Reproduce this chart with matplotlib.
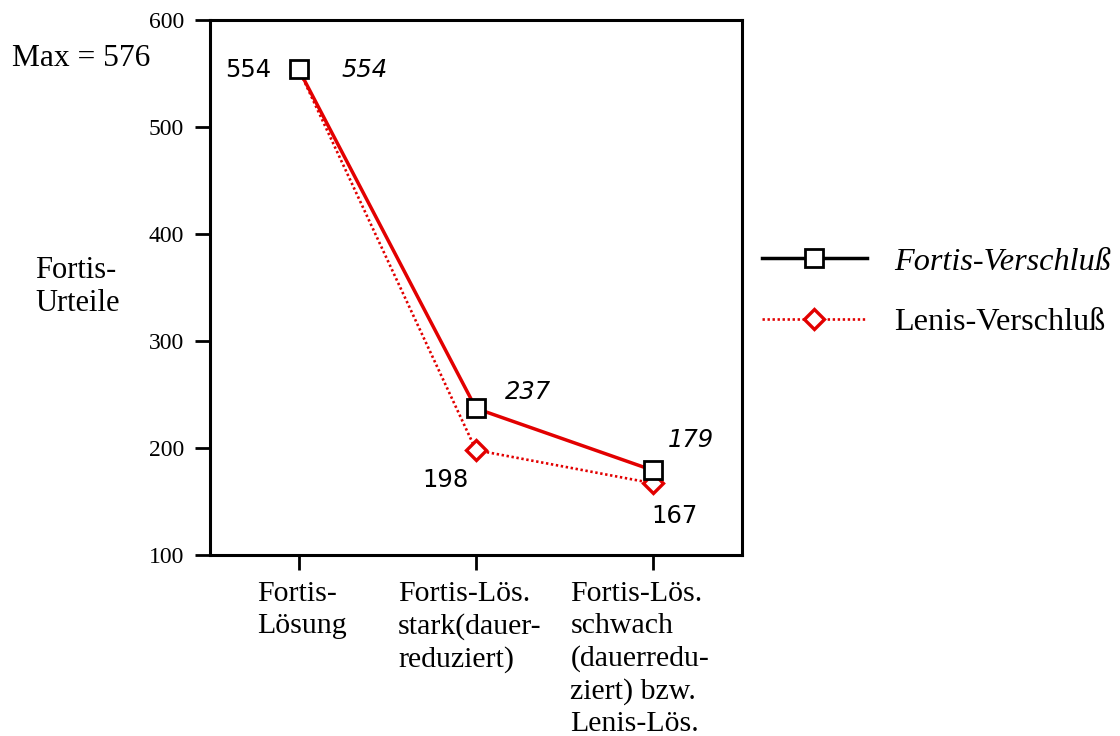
import matplotlib
matplotlib.use("Agg")
import matplotlib.pyplot as plt
import matplotlib.transforms as mtransforms
from matplotlib.lines import Line2D

categories = ["Fortis-\nLösung", "Fortis-Lös.\nstark(dauer-\nreduziert)",
              "Fortis-Lös.\nschwach\n(dauerredu-\nziert) bzw.\nLenis-Lös."]
fortis = [554, 237, 179]
lenis = [554, 198, 167]
yticks = [100, 200, 300, 400, 500, 600]
series_names = ["Fortis-Verschluß", "Lenis-Verschluß"]

RED = "#e20000"
SERIF = "Liberation Serif"
SANS = "DejaVu Sans"
DOTS = (0, (0.9, 1.0))

fig = plt.figure(figsize=(11.2, 7.36), dpi=100)
ax = fig.add_axes([0.1875, 0.2459, 0.475, 0.7269])

x = list(range(len(categories)))
ax.plot(x, lenis, color=RED, lw=1.9, ls=DOTS, marker="D", ms=10.5,
        mfc="white", mec=RED, mew=2.4, zorder=3, clip_on=False,
        markevery=[1, 2])
ax.plot(x, fortis, color=RED, lw=2.5, ls="-", marker="s", ms=13,
        mfc="white", mec="black", mew=2.0, zorder=4, clip_on=False)

ax.set_xlim(-0.5, 2.5)
ax.set_ylim(100, 600)
ax.set_yticks(yticks)
ax.set_yticklabels([str(v) for v in yticks], fontfamily=SERIF, fontsize=17)
ax.set_xticks(x)
ax.set_xticklabels(categories, fontfamily=SERIF, fontsize=21.5,
                   linespacing=1.29, ha="left", multialignment="left")
ax.tick_params(axis="both", direction="out", length=10.8, width=2.0,
               color="black")
ax.tick_params(axis="y", pad=8)
ax.tick_params(axis="x", pad=8)
for s in ax.spines.values():
    s.set_linewidth(2.2)

label_dx = [-42, -78, -83]  # pixel shifts of category label blocks
for t, dx in zip(ax.get_xticklabels(), label_dx):
    t.set_transform(t.get_transform() +
                    mtransforms.ScaledTranslation(dx / 100, 0,
                                                  fig.dpi_scale_trans))

# data labels
def lab(xi, yi, txt, dx, dy, ha, italic):
    ax.annotate(txt, (xi, yi), xytext=(dx, dy), textcoords="offset pixels",
                ha=ha, va="center", fontsize=17.5, fontfamily=SANS,
                fontstyle="italic" if italic else "normal", zorder=5)

lab(0, lenis[0], str(lenis[0]), -27, -1, "right", False)
lab(0, fortis[0], str(fortis[0]), 43, -1, "left", True)
lab(1, fortis[1], str(fortis[1]), 29, 16, "left", True)
lab(1, lenis[1], str(lenis[1]), -7, -30, "right", False)
lab(2, fortis[2], str(fortis[2]), 14, 30, "left", True)
lab(2, lenis[2], str(lenis[2]), -2, -33, "left", False)

fig.text(12/1120, 1 - 58/736, "Max = 576", fontfamily=SERIF, fontsize=22.7,
         ha="left", va="center")
fig.text(35/1120, 1 - 287/736, "Fortis-\nUrteile", fontfamily=SERIF,
         fontsize=22, ha="left", va="center", linespacing=1.22)

handles = [
    Line2D([], [], color="black", lw=2.5, marker="s", ms=13, mfc="white",
           mec="black", mew=2.0),
    Line2D([], [], color=RED, lw=1.9, ls=DOTS, marker="D", ms=10.5,
           mfc="white", mec=RED, mew=2.4),
]
leg = fig.legend(handles, series_names, loc="center left",
                 bbox_to_anchor=(762/1120, 1 - 292/736), frameon=False,
                 prop={"family": SERIF, "size": 23.2}, handlelength=3.25,
                 handletextpad=0.85, labelspacing=0.96, borderpad=0,
                 borderaxespad=0)
leg.get_texts()[0].set_fontstyle("italic")

fig.savefig("out.png", dpi=100)
